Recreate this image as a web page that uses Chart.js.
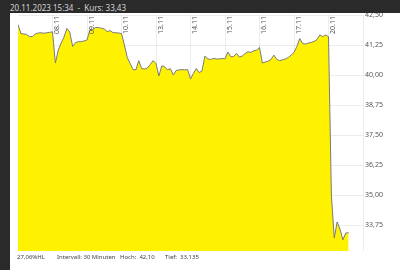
<!DOCTYPE html>
<html>
<head>
<meta charset="utf-8">
<script src="https://cdn.jsdelivr.net/npm/chart.js@4.4.0/dist/chart.umd.min.js"></script>
<style>
  html, body { margin: 0; padding: 0; }
  body { width: 400px; height: 270px; position: relative; overflow: hidden; background: #fff; font-family: 'Noto Sans', sans-serif; }
  #chart { position: absolute; left: 0; top: 0; }
  #head { position: absolute; left: 0; top: 0; width: 400px; height: 13px; background: #2a2a2a; color: #d4d4d4; font-size: 8px; line-height: 15px; padding-left: 10px; box-sizing: border-box; white-space: pre; overflow: hidden; }
  #side { position: absolute; left: 0; top: 13px; width: 10px; height: 257px; background: #2a2a2a; }
  .foot { position: absolute; top: 253px; font-size: 6px; color: #444; white-space: pre; }
</style>
</head>
<body>
<canvas id="chart" width="400" height="270"></canvas>
<div id="head">20.11.2023 15:34  -  Kurs: 33,43</div>
<div id="side"></div>
<div class="foot" style="left:17px">27,06%HL</div>
<div class="foot" style="left:57px">Intervall: 30 Minuten</div>
<div class="foot" style="left:120px">Hoch:  42,10</div>
<div class="foot" style="left:165px">Tief:  33,135</div>
<script>
// trading days shown on the x axis
const days = ['07.11', '08.11', '09.11', '10.11', '13.11', '14.11', '15.11', '16.11', '17.11', '20.11'];
const perDay = 12;

// quotes per day
const d0711 = [42.10, 41.73, 41.71, 41.69, 41.60, 41.60, 41.71, 41.75, 41.76, 41.74, 41.76, 41.78];
const d0811 = [41.80, 40.50, 41.04, 41.33, 41.58, 41.94, 41.79, 41.19, 41.35, 41.39, 41.39, 41.42];
const d0911 = [41.46, 41.88, 41.90, 41.98, 41.98, 41.95, 41.92, 41.81, 41.85, 41.77, 41.76, 41.75];
const d1011 = [41.73, 41.25, 40.73, 40.48, 40.23, 40.21, 40.60, 40.27, 40.25, 40.29, 40.44, 40.60];
const d1311 = [40.48, 39.96, 40.38, 40.35, 40.21, 40.27, 40.00, 40.19, 40.21, 40.23, 40.21, 40.23];
const d1411 = [39.83, 40.07, 40.27, 40.10, 40.17, 40.79, 40.67, 40.65, 40.69, 40.67, 40.67, 40.69];
const d1511 = [40.67, 40.96, 40.76, 40.77, 40.90, 40.75, 40.79, 40.90, 40.97, 40.94, 41.01, 41.04];
const d1611 = [41.15, 40.50, 40.54, 40.58, 40.65, 40.83, 40.65, 40.60, 40.63, 40.67, 40.73, 40.83];
const d1711 = [40.94, 41.19, 41.52, 41.31, 41.29, 41.33, 41.36, 41.40, 41.48, 41.67, 41.60, 41.67];
const d2011 = [41.60, 35.00, 33.21, 33.88, 33.58, 33.135, 33.42, 33.43];

const yTicks = [33.75, 35.00, 36.25, 37.50, 38.75, 40.00, 41.25, 42.50];

const perDayValues = [d0711, d0811, d0911, d1011, d1311, d1411, d1511, d1611, d1711, d2011];
const points = [];
perDayValues.forEach((vals, d) => {
  vals.forEach((v, i) => points.push({ x: d + i / perDay, y: v }));
});

// day labels, rotated, inside the plot next to each gridline
const dayLabels = {
  id: 'dayLabels',
  afterDraw(chart) {
    const { ctx, chartArea, scales } = chart;
    ctx.save();
    ctx.font = '7px "Noto Sans"';
    ctx.fillStyle = '#555';
    ctx.textAlign = 'right';
    ctx.textBaseline = 'top';
    for (let d = 1; d < days.length; d++) {
      const x = scales.x.getPixelForValue(d);
      ctx.save();
      ctx.translate(x + 1, chartArea.top + 1);
      ctx.rotate(-Math.PI / 2);
      ctx.fillText(days[d], 0, 0);
      ctx.restore();
    }
    ctx.restore();
  }
};

new Chart(document.getElementById('chart'), {
  type: 'line',
  data: {
    datasets: [{
      data: points,
      borderColor: '#7a7a7a',
      borderWidth: 1,
      backgroundColor: '#fff200',
      fill: 'start',
      pointRadius: 0,
      tension: 0
    }]
  },
  options: {
    responsive: false,
    animation: false,
    layout: { padding: { left: 18, top: 15, right: 0, bottom: 19 } },
    plugins: { legend: { display: false }, tooltip: { enabled: false } },
    scales: {
      x: {
        type: 'linear',
        min: 0,
        max: 10,
        z: 1,
        grid: { color: 'rgba(0,0,0,0.07)', drawTicks: false },
        border: { display: false },
        ticks: { display: false },
        afterBuildTicks: s => { s.ticks = days.map((_, d) => ({ value: d + 1 })); },
        afterFit: s => { s.height = 0; }
      },
      y: {
        position: 'right',
        min: 32.67,
        max: 42.5,
        z: 1,
        grid: { color: 'rgba(0,0,0,0.07)', drawTicks: false },
        border: { display: false },
        ticks: {
          padding: 2,
          color: '#555',
          font: { family: 'Noto Sans', size: 7 },
          callback: v => v.toFixed(2).replace('.', ',')
        },
        afterBuildTicks: s => { s.ticks = yTicks.map(v => ({ value: v })); },
        afterFit: s => { s.width = 37; }
      }
    }
  },
  plugins: [dayLabels]
});
</script>
</body>
</html>
